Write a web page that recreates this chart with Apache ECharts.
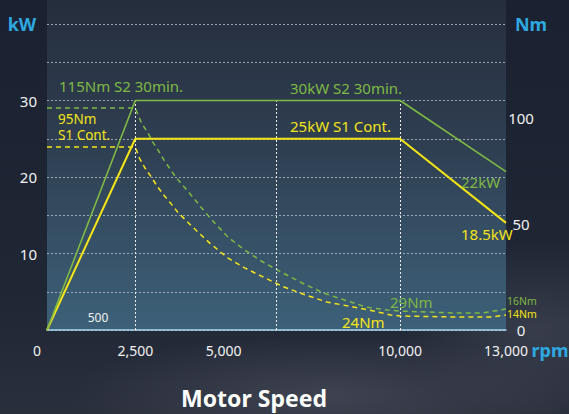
<!DOCTYPE html>
<html><head><meta charset="utf-8">
<script src="https://cdn.jsdelivr.net/npm/echarts@6/dist/echarts.min.js"></script>
<style>
html,body{margin:0;padding:0;width:569px;height:414px;overflow:hidden;}
body{background:
 radial-gradient(ellipse 260px 60px at 330px 395px, rgba(80,84,98,0.55), rgba(80,84,98,0) 100%),
 radial-gradient(ellipse 140px 90px at 540px 330px, rgba(70,74,88,0.6), rgba(70,74,88,0) 100%),
 linear-gradient(180deg,#1b2130 0%,#1f2634 70%,#2a2f3c 100%);}
#chart{width:569px;height:414px;}
</style></head>
<body><div id="chart"></div>
<script>
// ---- data ----
const rpmPower = [0, 2500, 10000, 13000];
const powerS2 = [0, 30, 30, 20.7];
const powerS1 = [0, 25, 25, 14];

const rpmTorqueS2 = [0, 2500, 2550, 2680, 2850, 3000, 3155, 3325, 3485, 3655, 3855, 4055, 4255, 4460, 4670, 5120, 5600, 6115, 6625, 7230, 7830, 8430, 9035, 9640, 10000, 11560, 12330, 13000];
const torqueS2 = [104.5, 104.5, 102.4, 97.3, 93, 88.3, 84.4, 79.7, 75.8, 71.8, 67.9, 64, 60, 55.8, 51.8, 43.8, 37.6, 32, 27.3, 22.1, 17.4, 14.1, 10.8, 9.4, 8.9, 8, 8, 9.9];

const rpmTorqueS1 = [0, 2500, 2620, 2780, 2950, 3130, 3305, 3505, 3705, 4155, 4610, 5120, 5600, 6175, 6715, 7320, 7920, 8525, 9130, 9730, 10000, 11560, 12590, 13000];
const torqueS1 = [86.1, 86.1, 80.8, 76.1, 72.1, 67.4, 63.5, 59.6, 55.4, 48, 40.9, 33.9, 29.2, 24.5, 20.2, 16.5, 13.2, 11.3, 9.4, 7.1, 6.6, 6.1, 6.1, 7.1];

const xTickLabels = [0, 2500, 5000, 10000, 13000];
const kwTickLabels = [10, 20, 30];
const nmTickLabels = [0, 50, 100];
const guideRpm = [2500, 6500, 10000];
const guideTopKw = 30;

// ---- styles ----
const GREEN = '#7fb843';
const YELLOW = '#f4e516';
const BLUE = '#2ea8e0';
const FONT = '"Noto Sans", "Open Sans", sans-serif';

const zip = (xs, ys) => xs.map((x, i) => [x, ys[i]]);
const fmtNum = v => v.toLocaleString('en-US');

const chart = echarts.init(document.getElementById('chart'), null, {renderer: 'svg'});

function txt(text, x, y, color, size, opts) {
  opts = opts || {};
  const style = {
    text: text, x: x, y: y, fill: color,
    font: (opts.weight || 'normal') + ' ' + size + 'px ' + FONT,
    textAlign: opts.align || 'left', align: opts.align || 'left',
    textVerticalAlign: 'middle', verticalAlign: 'middle'
  };
  return {type: 'text', z: 100, silent: true, style: style};
}

const option = {
  backgroundColor: 'transparent',
  animation: false,
  grid: {left: 47, right: 63, top: 24, bottom: 84, containLabel: false},
  xAxis: {
    type: 'value', min: 0, max: 13000, interval: 500,
    axisLine: {show: true, lineStyle: {color: '#a9d6ee', width: 1.5}},
    axisTick: {show: false},
    splitLine: {show: false},
    axisLabel: {
      color: '#f2f2f2', fontSize: 14, fontFamily: FONT, margin: 13,
      formatter: v => xTickLabels.includes(v) ? (v === 0 ? '{z|0}' : fmtNum(v)) : '',
      rich: {z: {color: '#f2f2f2', fontSize: 14, fontFamily: FONT, padding: [0, 20, 0, 0]}}
    }
  },
  yAxis: [
    {
      type: 'value', min: 0, max: 40, interval: 5,
      axisLine: {show: false}, axisTick: {show: false},
      splitLine: {show: true, lineStyle: {color: 'rgba(190,200,212,0.75)', type: [2, 2], width: 1}},
      axisLabel: {
        color: '#f2f2f2', fontSize: 15, fontFamily: FONT, margin: 10,
        formatter: v => kwTickLabels.includes(v) ? String(v) : ''
      }
    },
    {
      type: 'value', min: 0, max: 144, interval: 50, position: 'right',
      axisLine: {show: false}, axisTick: {show: false}, splitLine: {show: false},
      axisLabel: {
        color: '#f2f2f2', fontSize: 15, fontFamily: FONT, margin: 15, align: 'center',
        showMaxLabel: false,
        formatter: v => nmTickLabels.includes(v) ? String(v) : ''
      }
    }
  ],
  series: [
    {
      name: 'Torque S2', type: 'line', yAxisIndex: 1, data: zip(rpmTorqueS2, torqueS2),
      showSymbol: false, symbol: 'none', z: 3,
      lineStyle: {color: GREEN, width: 1.5, type: [5, 4]}
    },
    {
      name: 'Torque S1', type: 'line', yAxisIndex: 1, data: zip(rpmTorqueS1, torqueS1),
      showSymbol: false, symbol: 'none', z: 3,
      lineStyle: {color: YELLOW, width: 1.5, type: [5, 4]}
    },
    {
      name: 'Power S1', type: 'line', yAxisIndex: 0, data: zip(rpmPower, powerS1),
      showSymbol: false, symbol: 'none', z: 5,
      lineStyle: {color: YELLOW, width: 2}
    },
    {
      name: 'Power S2', type: 'line', yAxisIndex: 0, data: zip(rpmPower, powerS2),
      showSymbol: false, symbol: 'none', z: 6,
      lineStyle: {color: GREEN, width: 1.6},
      markLine: {
        silent: true, symbol: ['none', 'none'], label: {show: false},
        lineStyle: {color: 'rgba(255,255,255,0.9)', type: [2, 2], width: 1},
        data: guideRpm.map(r => [{coord: [r, 0]}, {coord: [r, guideTopKw]}])
      }
    }
  ],
  graphic: {
    elements: [
      {
        type: 'rect', z: -10, silent: true,
        shape: {x: 47, y: 0, width: 459, height: 330},
        style: {
          fill: new echarts.graphic.LinearGradient(0, 0, 0, 1, [
            {offset: 0, color: '#262e3d'},
            {offset: 0.45, color: '#2f3f52'},
            {offset: 1, color: '#3d6179'}
          ])
        }
      },
      txt('kW', 22, 24, BLUE, 18, {weight: 'bold', align: 'center'}),
      txt('Nm', 531, 24, BLUE, 18, {weight: 'bold', align: 'center'}),
      txt('rpm', 550, 350, BLUE, 18, {weight: 'bold', align: 'center'}),
      txt('Motor Speed', 254, 398, '#ffffff', 23, {weight: 'bold', align: 'center'}),
      txt('115Nm S2 30min.', 59, 86, GREEN, 15),
      txt('95Nm', 58, 118.5, YELLOW, 13.5),
      txt('S1 Cont.', 58, 135, YELLOW, 13.5),
      txt('30kW S2 30min.', 290, 88, GREEN, 15),
      txt('25kW S1 Cont.', 290, 126, YELLOW, 15),
      txt('22kW', 461, 182, GREEN, 15),
      txt('18.5kW', 461, 234, YELLOW, 15),
      txt('29Nm', 390, 302, GREEN, 15),
      txt('24Nm', 342, 322, YELLOW, 15),
      txt('16Nm', 507, 301, GREEN, 10.5),
      txt('14Nm', 507, 313.5, YELLOW, 10.5),
      txt('500', 98, 317, '#f2f2f2', 12, {align: 'center'})
    ]
  }
};
chart.setOption(option);
</script>
</body></html>
